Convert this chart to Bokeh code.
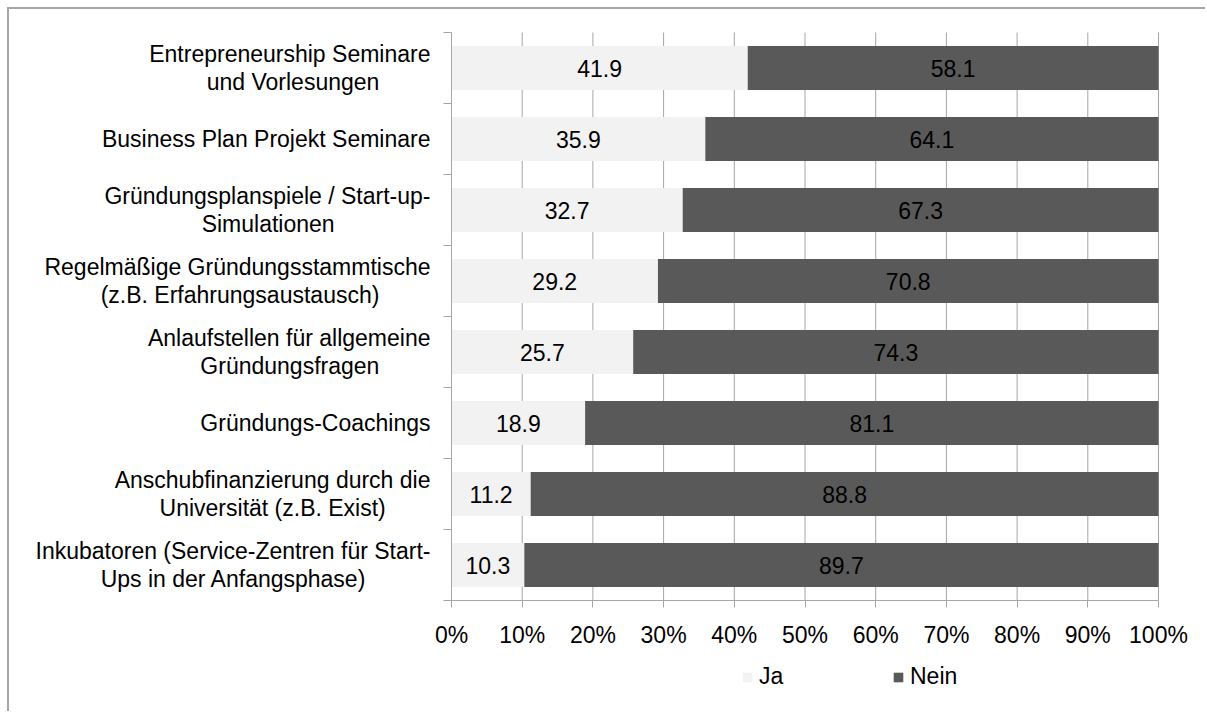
from bokeh.plotting import figure
from bokeh.models import (ColumnDataSource, Range1d, LinearAxis, FixedTicker,
                          PrintfTickFormatter, Legend, LegendItem)
from bokeh.core.properties import value
from bokeh.embed import file_html
from bokeh.resources import INLINE

categories = [
    "Entrepreneurship Seminare\nund Vorlesungen",
    "Business Plan Projekt Seminare",
    "Gründungsplanspiele / Start-up-\nSimulationen",
    "Regelmäßige Gründungsstammtische\n(z.B. Erfahrungsaustausch)",
    "Anlaufstellen für allgemeine\nGründungsfragen",
    "Gründungs-Coachings",
    "Anschubfinanzierung durch die\nUniversität (z.B. Exist)",
    "Inkubatoren (Service-Zentren für Start-\nUps in der Anfangsphase)",
]
ja = [41.9, 35.9, 32.7, 29.2, 25.7, 18.9, 11.2, 10.3]
nein = [58.1, 64.1, 67.3, 70.8, 74.3, 81.1, 88.8, 89.7]
x_ticks = [0, 10, 20, 30, 40, 50, 60, 70, 80, 90, 100]
series = ["Ja", "Nein"]

FONT = "Liberation Sans"
FS = "23px"
GRID = "#a6a6a6"

# approximate Arial / Liberation Sans advance widths (per 1000 em) used to
# centre the shorter line of a wrapped label inside its right-aligned block
_W = {" ": 278, "\u00a0": 278, "(": 333, ")": 333, "-": 333, ".": 278, "/": 278,
      "A": 667, "B": 667, "C": 722, "E": 667, "G": 778, "I": 278, "P": 667,
      "R": 722, "S": 667, "U": 722, "V": 667, "Z": 611,
      "a": 556, "b": 556, "c": 500, "d": 556, "e": 556, "f": 278, "g": 556,
      "h": 556, "i": 222, "j": 222, "k": 500, "l": 222, "m": 833, "n": 556,
      "o": 556, "p": 556, "r": 333, "s": 500, "t": 278, "u": 556, "v": 500,
      "w": 722, "x": 500, "y": 500, "z": 500, "ä": 556, "ü": 556, "ß": 611}


def _w(s):
    return sum(_W.get(ch, 556) for ch in s)


def centre_lines(label):
    lines = label.split("\n")
    if len(lines) == 1:
        return label
    wmax = max(_w(l) for l in lines)
    out = []
    for l in lines:
        pad = round((wmax - _w(l)) / 2 / 278)
        out.append(l + "\u00a0" * pad)
    return "\n".join(out)


n = len(categories)
ypos = [i + 0.5 for i in range(n)]
src = ColumnDataSource(dict(
    y=ypos, ja=ja, nein=nein,
    nein_right=[a + b for a, b in zip(ja, nein)],
    ja_mid=[a / 2 for a in ja],
    nein_mid=[a + b / 2 for a, b in zip(ja, nein)],
    ja_txt=[f"{v:.1f}" for v in ja],
    nein_txt=[f"{v:.1f}" for v in nein],
))

# layout (canvas pixels); the frame spans the whole canvas so that the
# pinned axes and their labels are never clipped
W, H = 1198, 704
BAR_L, BAR_R, BAR_T, BAR_B = 442, 1149, 23, 591
ppx = (BAR_R - BAR_L) / 100.0
ppy = (BAR_B - BAR_T) / n
x_start, x_end = -BAR_L / ppx, 100 + (W - BAR_R) / ppx
y_top, y_bottom = -BAR_T / ppy, n + (H - BAR_B) / ppy

p = figure(width=W, height=H, output_backend="svg", toolbar_location=None,
           x_range=Range1d(x_start, x_end), y_range=Range1d(y_bottom, y_top),
           x_axis_type=None, y_axis_type=None,
           min_border_left=0, min_border_right=0,
           min_border_top=0, min_border_bottom=0)
p.outline_line_color = None
p.background_fill_color = "white"
p.border_fill_color = "white"
p.styles = {"margin-left": "7px", "margin-top": "7px",
            "border-left": "2px solid #a6a6a6", "border-top": "2px solid #a6a6a6"}

# vertical gridlines, limited to the bar area
p.segment(x0=x_ticks, x1=x_ticks, y0=[0] * len(x_ticks), y1=[n] * len(x_ticks),
          line_color=GRID, line_width=1)

r_ja = p.hbar(y="y", left=0, right="ja", height=0.62, source=src,
              fill_color="#f2f2f2", line_color=None)
r_nein = p.hbar(y="y", left="ja", right="nein_right", height=0.62, source=src,
                fill_color="#595959", line_color=None)

for xcol, tcol in (("ja_mid", "ja_txt"), ("nein_mid", "nein_txt")):
    p.text(x=xcol, y="y", text=tcol, source=src, text_align="center",
           text_baseline="middle", text_font=value(FONT), text_font_size=FS,
           text_color="black")

# x axis, pinned at the bottom of the bar area
xaxis = LinearAxis(ticker=FixedTicker(ticks=x_ticks, minor_ticks=[]),
                   formatter=PrintfTickFormatter(format="%d%%"),
                   fixed_location=n, bounds=(0, 100))
xaxis.axis_line_color = GRID
xaxis.major_tick_line_color = GRID
xaxis.major_tick_out = 7
xaxis.major_tick_in = 0
xaxis.minor_tick_line_color = None
xaxis.major_label_standoff = 14
xaxis.major_label_text_font = FONT
xaxis.major_label_text_font_size = FS
xaxis.major_label_text_color = "black"
p.add_layout(xaxis, "below")

# y axis pinned at 0 %: labels at category centres, tick marks between categories
yaxis = LinearAxis(ticker=FixedTicker(ticks=ypos, minor_ticks=list(range(n + 1))),
                   major_label_overrides={y: centre_lines(c) for y, c in zip(ypos, categories)},
                   fixed_location=0, bounds=(0, n))
yaxis.axis_line_color = GRID
yaxis.major_tick_line_color = None
yaxis.major_tick_out = 8
yaxis.major_tick_in = 0
yaxis.minor_tick_line_color = GRID
yaxis.minor_tick_out = 8
yaxis.minor_tick_in = 0
yaxis.major_label_standoff = 13
yaxis.major_label_text_font = FONT
yaxis.major_label_text_font_size = FS
yaxis.major_label_text_color = "black"
yaxis.major_label_text_line_height = 1.1
p.add_layout(yaxis, "left")

legend = Legend(items=[LegendItem(label=series[0], renderers=[r_ja]),
                       LegendItem(label=series[1], renderers=[r_nein])],
                location=(732, 23), orientation="horizontal",
                glyph_width=12, glyph_height=12, label_standoff=6,
                label_width=133, spacing=0, padding=0, margin=0,
                border_line_color=None, background_fill_alpha=0,
                label_text_font=FONT, label_text_font_size=FS,
                label_text_color="black")
p.add_layout(legend, "center")

open("out.html", "w").write(file_html(p, INLINE))
